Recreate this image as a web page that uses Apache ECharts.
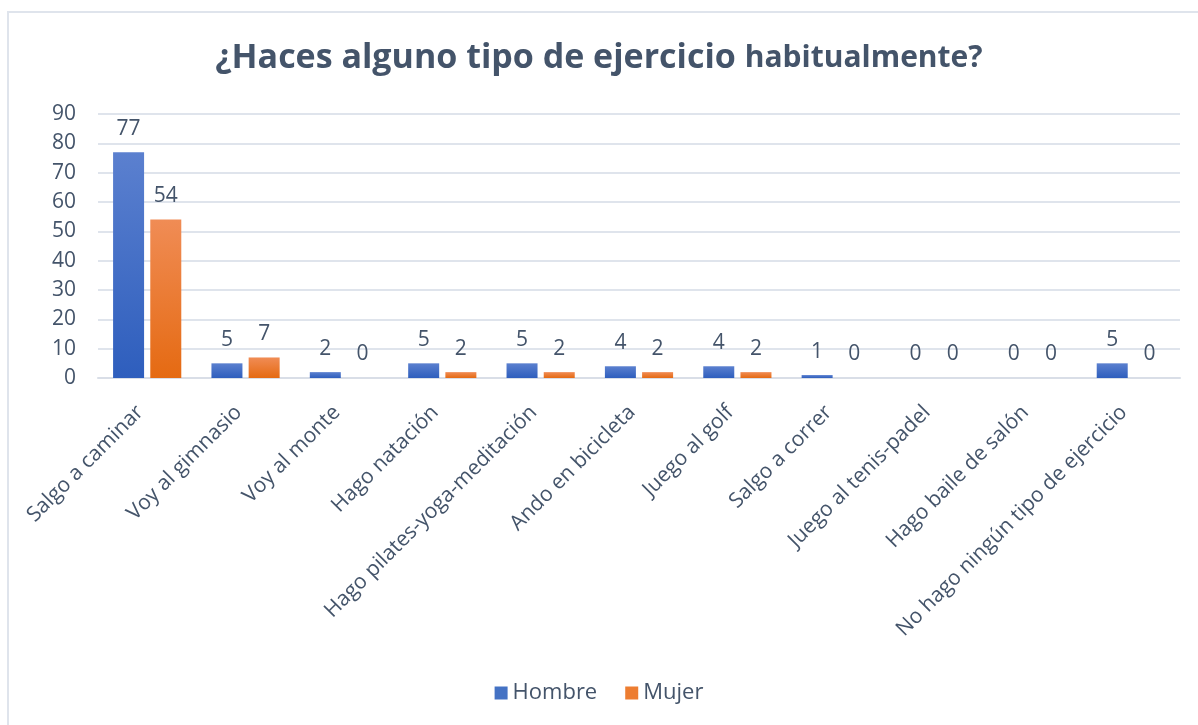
<!DOCTYPE html>
<html>
<head>
<meta charset="utf-8">
<script src="https://cdn.jsdelivr.net/npm/echarts@6/dist/echarts.min.js"></script>
<style>
html, body { margin: 0; padding: 0; background: #fff; }
#frame { position: absolute; left: 7px; top: 11px; width: 1191px; height: 714px;
         border-left: 2px solid #dfe4ec; border-top: 2px solid #dfe4ec; box-sizing: border-box; }
#chart { position: absolute; left: 0; top: 0; width: 1198px; height: 725px; }
</style>
</head>
<body>
<div id="frame"></div>
<div id="chart"></div>
<script>
var categories = ['Salgo a caminar', 'Voy al gimnasio', 'Voy al monte', 'Hago natación',
  'Hago pilates-yoga-meditación', 'Ando en bicicleta', 'Juego al golf', 'Salgo a correr',
  'Juego al tenis-padel', 'Hago baile de salón', 'No hago ningún tipo de ejercicio'];
var hombre = [77, 5, 2, 5, 5, 4, 4, 1, 0, 0, 5];
var mujer = [54, 7, 0, 2, 2, 2, 2, 0, 0, 0, 0];
var yTicks = [0, 90, 10];

var textColor = '#44546a';
var fontName = '"Open Sans", "Noto Sans", sans-serif';

var chart = echarts.init(document.getElementById('chart'));

function grad(top, bottom) {
  return new echarts.graphic.LinearGradient(0, 0, 0, 1, [
    { offset: 0, color: top }, { offset: 1, color: bottom }
  ]);
}

var option = {
  animation: false,
  textStyle: { fontFamily: fontName },
  title: {
    text: '{a|¿Haces alguno tipo de ejercicio }{b|habitualmente?}',
    left: 'center',
    top: 36,
    textStyle: {
      rich: {
        a: { fontSize: 34, fontWeight: 'bold', color: textColor, fontFamily: fontName },
        b: { fontSize: 30, fontWeight: 'bold', color: textColor, fontFamily: fontName }
      }
    }
  },
  legend: {
    bottom: 16,
    left: 'center',
    itemWidth: 13,
    itemHeight: 13,
    itemGap: 28,
    icon: 'rect',
    textStyle: { fontSize: 22, color: textColor, fontFamily: fontName },
    data: [
      { name: 'Hombre', itemStyle: { color: '#4472c4' } },
      { name: 'Mujer', itemStyle: { color: '#ed7d31' } }
    ]
  },
  grid: { left: 98, right: 18, top: 114, bottom: 347 },
  xAxis: {
    type: 'category',
    data: categories,
    axisTick: { show: false },
    axisLine: { lineStyle: { color: '#d9dee7', width: 2 } },
    axisLabel: {
      rotate: 45,
      interval: 0,
      fontSize: 21,
      color: textColor,
      fontFamily: fontName,
      margin: 24,
      padding: [0, 10, 0, 0]
    }
  },
  yAxis: {
    type: 'value',
    min: yTicks[0],
    max: yTicks[1],
    interval: yTicks[2],
    axisLine: { show: false },
    axisTick: { show: false },
    splitLine: { lineStyle: { color: '#dfe4ec', width: 2 } },
    axisLabel: { fontSize: 21, color: textColor, fontFamily: fontName, margin: 22 }
  },
  series: [
    {
      name: 'Hombre',
      type: 'bar',
      data: hombre,
      barWidth: 31,
      barGap: '20%',
      itemStyle: { color: grad('#5b80cf', '#2e5ebd') },
      label: { show: true, position: 'top', distance: 13, fontSize: 21, color: textColor, fontFamily: fontName }
    },
    {
      name: 'Mujer',
      type: 'bar',
      data: mujer,
      barWidth: 31,
      itemStyle: { color: grad('#f08c55', '#e56a12') },
      label: { show: true, position: 'top', distance: 13, fontSize: 21, color: textColor, fontFamily: fontName }
    }
  ]
};

chart.setOption(option);
</script>
</body>
</html>
